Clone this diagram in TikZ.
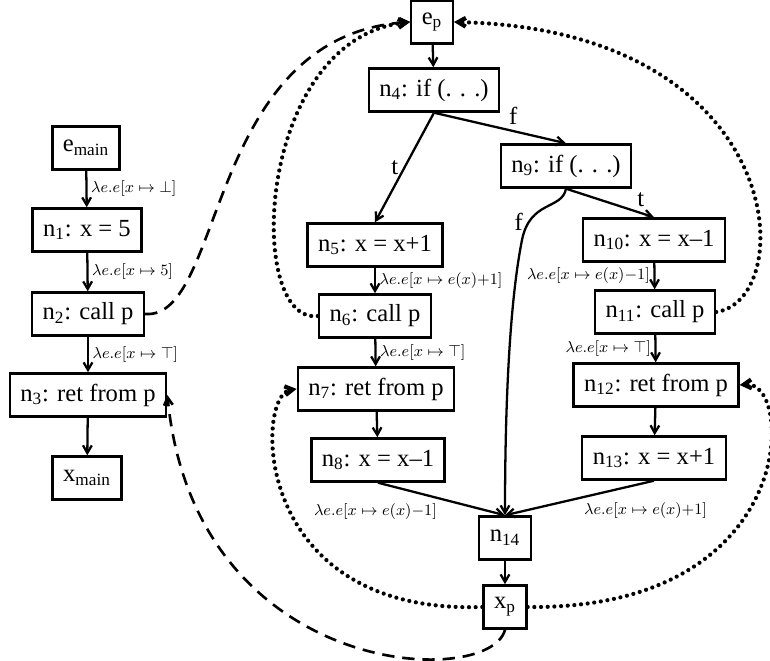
\documentclass[tikz,border=0pt]{standalone}
\usepackage{amsmath}
\usepackage{amssymb}
\usepackage{fontspec}
\setmainfont{Liberation Serif}
\usepackage{tikz}
\usetikzlibrary{arrows.meta}
\newcommand{\lup}[1]{$\lambda e.e[x\mapsto #1]$}
\tikzset{
    >={Straight Barb[angle=60:5pt]},
    blk/.style={draw, line width=1.4pt, minimum height=8.6mm,
        inner xsep=6pt, font=\fontsize{14}{17}\selectfont}, % a CFG node
    flow/.style={->, line width=1.3pt}, % intraprocedural edge
    lbl/.style={font=\fontsize{9.5}{11}\selectfont, inner sep=2pt}, % transfer function
    br/.style={font=\fontsize{14}{17}\selectfont, inner sep=3pt}, % branch label
    cedge/.style={->, line width=1.5pt, dash pattern=on 7pt off 4.5pt}, % call
    redge/.style={->, line width=2.4pt, line cap=round,
        dash pattern=on 0pt off 3.8pt}, % return
}
\begin{document}
\begin{tikzpicture}[x=0.2mm, y=-0.2mm]
        \useasboundingbox (0,0) rectangle (770,661);
        % main
        \node[blk] (emain) at (86,148) {e\textsubscript{main}};
        \node[blk] (n1) at (87,230) {n\textsubscript{1}: x = 5};
        \node[blk] (n2) at (88,314) {n\textsubscript{2}: call p};
        \node[blk] (n3) at (88,395) {n\textsubscript{3}: ret from p};
        \node[blk] (xmain) at (87,478) {x\textsubscript{main}};
        % procedure p
        \node[blk] (ep) at (432,22) {e\textsubscript{p}};
        \node[blk] (n4) at (434,90) {n\textsubscript{4}: if (. . .)};
        \node[blk] (n9) at (566,166) {n\textsubscript{9}: if (. . .)};
        \node[blk] (n5) at (375,245) {n\textsubscript{5}: x = x+1};
        \node[blk] (n6) at (375,316) {n\textsubscript{6}: call p};
        \node[blk] (n7) at (376,389) {n\textsubscript{7}: ret from p};
        \node[blk] (n8) at (378,460) {n\textsubscript{8}: x = x--1};
        \node[blk] (n10) at (654,240) {n\textsubscript{10}: x = x--1};
        \node[blk] (n11) at (655,312) {n\textsubscript{11}: call p};
        \node[blk] (n12) at (656,385) {n\textsubscript{12}: ret from p};
        \node[blk] (n13) at (654,458) {n\textsubscript{13}: x = x+1};
        \node[blk] (n14) at (505,538) {n\textsubscript{14}};
        \node[blk] (xp) at (505,607) {x\textsubscript{p}};

        \draw[flow] (emain) -- node[lbl, right] {\lup{\bot}} (n1);
        \draw[flow] (n1) -- node[lbl, right] {\lup{5}} (n2);
        \draw[flow] (n2) -- node[lbl, right] {\lup{\top}} (n3);
        \draw[flow] (n3) -- (xmain);

        \draw[flow] (ep) -- (n4);
        \draw[flow] (n4.south) -- node[br, left] {t} (n5.north);
        \draw[flow] (n4.south) -- node[br, above, pos=0.6] {f} (n9.north);
        \draw[flow] (n9.south) -- node[br, pos=0.85, above] {t} (n10.north);
        \draw[flow] (n9.south) .. controls (562,210) and (530,200) .. node[br, pos=0.8, left] {f} (522,240)
            .. controls (510,300) and (505,400) .. (n14.north);
        \draw[flow] (n5) -- node[lbl, right] {\lup{e(x){+}1}} (n6);
        \draw[flow] (n6) -- node[lbl, right] {\lup{\top}} (n7);
        \draw[flow] (n7) -- (n8);
        \draw[flow] (n10) -- node[lbl, left] {\lup{e(x){-}1}} (n11);
        \draw[flow] (n11) -- node[lbl, left] {\lup{\top}} (n12);
        \draw[flow] (n12) -- (n13);
        \draw[flow] (n8.south) -- node[lbl, below left] {\lup{e(x){-}1}} (n14.north);
        \draw[flow] (n13.south) -- node[lbl, below right] {\lup{e(x){+}1}} (n14.north);
        \draw[flow] (n14) -- (xp);

        % calls and returns
        \draw[cedge] (n2.east) .. controls (225,320) and (205,35) .. (ep.west);
        \draw[redge] (n6.west) .. controls (245,325) and (255,40) .. (ep.west);
        \draw[redge] (n11.east) .. controls (800,300) and (790,30) .. (ep.east);
        \draw[redge] (xp.west) .. controls (250,615) and (255,395) .. (n7.west);
        \draw[redge] (xp.east) .. controls (800,610) and (795,380) .. (n12.east);
        \draw[cedge] (xp.south) .. controls (490,690) and (195,680) .. (n3.east);
    \end{tikzpicture}
\end{document}
